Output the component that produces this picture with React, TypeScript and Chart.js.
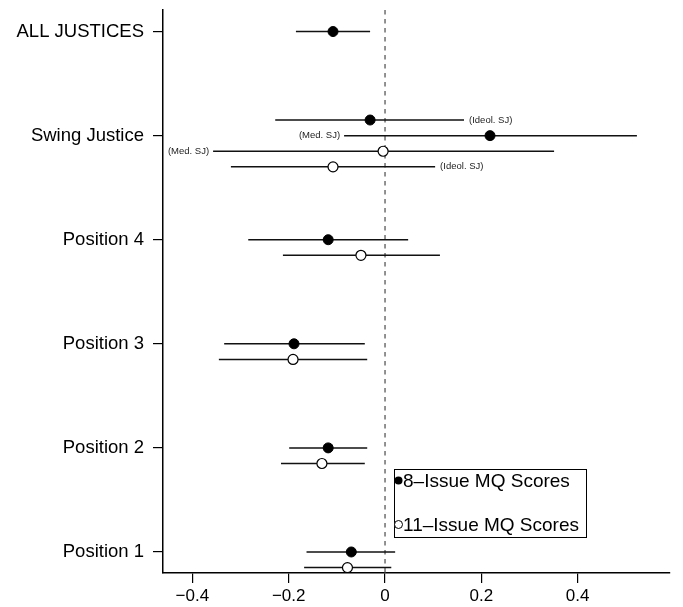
import { useEffect, useRef } from "react";
import { Chart, registerables } from "chart.js";

Chart.register(...registerables);

// Row labels on the vertical axis, bottom to top
const categories = ["Position 1", "Position 2", "Position 3", "Position 4", "Swing Justice", "ALL JUSTICES"];
const categoryPos = [1, 2, 3, 4, 5, 6];
const xTicks = [-0.4, -0.2, 0, 0.2, 0.4];

// 8-Issue MQ scores: vertical position, estimate, interval bounds, side note
const eightPos = [6, 5.15, 5, 4, 3, 2, 1];
const eightEst = [-0.108, -0.031, 0.218, -0.118, -0.189, -0.118, -0.070];
const eightLo = [-0.185, -0.228, -0.085, -0.284, -0.334, -0.199, -0.163];
const eightHi = [-0.031, 0.164, 0.523, 0.048, -0.042, -0.037, 0.021];
const eightNote = ["", "(Ideol. SJ)", "(Med. SJ)", "", "", "", ""];
const eightNoteSide = ["", "right", "left", "", "", "", ""];

// 11-Issue MQ scores
const elevenPos = [4.85, 4.7, 3.85, 2.85, 1.85, 0.85];
const elevenEst = [-0.004, -0.108, -0.050, -0.191, -0.131, -0.078];
const elevenLo = [-0.357, -0.320, -0.212, -0.345, -0.216, -0.168];
const elevenHi = [0.351, 0.104, 0.114, -0.037, -0.042, 0.013];
const elevenNote = ["(Med. SJ)", "(Ideol. SJ)", "", "", "", ""];
const elevenNoteSide = ["left", "right", "", "", "", ""];

const legendLabels = ["8\u2013Issue MQ Scores", "11\u2013Issue MQ Scores"];

const FONT = '"Liberation Sans", Arial, Helvetica, sans-serif';

type Row = { y: number; est: number; lo: number; hi: number; note: string; side: string };

const rows: Row[] = [
  ...eightPos.map((y, i) => ({ y, est: eightEst[i], lo: eightLo[i], hi: eightHi[i], note: eightNote[i], side: eightNoteSide[i] })),
  ...elevenPos.map((y, i) => ({ y, est: elevenEst[i], lo: elevenLo[i], hi: elevenHi[i], note: elevenNote[i], side: elevenNoteSide[i] })),
];

const fmtTick = (v: number) => {
  if (Math.abs(v) < 1e-9) return "0";
  const s = Math.abs(v).toFixed(1);
  return v < 0 ? "\u2212" + s : s;
};

const intervalPlugin = {
  id: "intervals",
  beforeDatasetsDraw(chart: any) {
    const { ctx, scales, chartArea } = chart;
    const xs = scales.x;
    const ys = scales.y;
    ctx.save();
    // reference line at zero
    const x0 = xs.getPixelForValue(0);
    ctx.strokeStyle = "#6e6e6e";
    ctx.lineWidth = 1.5;
    ctx.setLineDash([4.5, 4.5]);
    ctx.beginPath();
    ctx.moveTo(x0, chartArea.top);
    ctx.lineTo(x0, chartArea.bottom);
    ctx.stroke();
    ctx.setLineDash([]);
    // confidence intervals
    ctx.strokeStyle = "#111";
    ctx.lineWidth = 1.5;
    rows.forEach((r) => {
      const py = ys.getPixelForValue(r.y);
      ctx.beginPath();
      ctx.moveTo(xs.getPixelForValue(r.lo), py);
      ctx.lineTo(xs.getPixelForValue(r.hi), py);
      ctx.stroke();
    });
    ctx.restore();
  },
  afterDatasetsDraw(chart: any) {
    const { ctx, scales } = chart;
    const xs = scales.x;
    const ys = scales.y;
    ctx.save();
    ctx.fillStyle = "#222";
    ctx.font = `9.5px ${FONT}`;
    ctx.textBaseline = "middle";
    rows.forEach((r) => {
      if (!r.note) return;
      const py = ys.getPixelForValue(r.y);
      if (r.side === "right") {
        ctx.textAlign = "left";
        ctx.fillText(r.note, xs.getPixelForValue(r.hi) + 5, py);
      } else {
        ctx.textAlign = "right";
        ctx.fillText(r.note, xs.getPixelForValue(r.lo) - 4, py);
      }
    });
    ctx.restore();
  },
  afterDraw(chart: any) {
    const { ctx } = chart;
    ctx.save();
    // legend box
    const left = 394.5, top = 469.5, w = 192, h = 68;
    ctx.strokeStyle = "#000";
    ctx.lineWidth = 1;
    ctx.strokeRect(left, top, w, h);
    ctx.font = `19px ${FONT}`;
    ctx.textBaseline = "middle";
    ctx.textAlign = "left";
    const rowsY = [top + 11, top + 55];
    rowsY.forEach((yy, i) => {
      ctx.beginPath();
      ctx.arc(left + 4, yy, 4, 0, Math.PI * 2);
      if (i === 0) {
        ctx.fillStyle = "#000";
        ctx.fill();
      } else {
        ctx.fillStyle = "#fff";
        ctx.fill();
        ctx.strokeStyle = "#000";
        ctx.lineWidth = 1;
        ctx.stroke();
      }
      ctx.fillStyle = "#000";
      ctx.fillText(legendLabels[i], left + 8.5, yy + 1);
    });
    ctx.restore();
  },
};

export default function App() {
  const canvasRef = useRef<HTMLCanvasElement | null>(null);

  useEffect(() => {
    if (!canvasRef.current) return;
    const chart = new Chart(canvasRef.current, {
      type: "scatter",
      data: {
        datasets: [
          {
            label: legendLabels[0],
            data: eightPos.map((y, i) => ({ x: eightEst[i], y })),
            pointRadius: 5,
            pointHoverRadius: 5,
            pointBackgroundColor: "#000",
            pointBorderColor: "#000",
            pointBorderWidth: 1,
          },
          {
            label: legendLabels[1],
            data: elevenPos.map((y, i) => ({ x: elevenEst[i], y })),
            pointRadius: 5,
            pointHoverRadius: 5,
            pointBackgroundColor: "#fff",
            pointBorderColor: "#000",
            pointBorderWidth: 1.2,
          },
        ],
      },
      options: {
        responsive: false,
        animation: false,
        events: [],
        layout: { padding: { left: 0, top: 10, right: 13, bottom: 0 } },
        plugins: {
          legend: { display: false },
          tooltip: { enabled: false },
        },
        scales: {
          x: {
            type: "linear",
            min: -0.461,
            max: 0.5917,
            afterBuildTicks(scale: any) {
              scale.ticks = xTicks.map((v) => ({ value: v }));
            },
            afterFit(scale: any) {
              scale.height = 34;
              scale.paddingLeft = 0;
              scale.paddingRight = 0;
            },
            grid: {
              display: true,
              drawOnChartArea: false,
              drawTicks: true,
              tickLength: 10,
              color: "#000",
              lineWidth: 1.2,
            },
            border: { display: true, color: "#000", width: 1.5 },
            ticks: {
              padding: 3,
              color: "#000",
              font: { family: FONT, size: 17 },
              maxRotation: 0,
              autoSkip: false,
              callback: (v: any) => fmtTick(Number(v)),
            },
          },
          y: {
            type: "linear",
            min: 0.798,
            max: 6.207,
            afterBuildTicks(scale: any) {
              scale.ticks = categoryPos.map((v) => ({ value: v }));
            },
            afterFit(scale: any) {
              scale.width = 163;
              scale.paddingTop = 0;
              scale.paddingBottom = 0;
            },
            grid: {
              display: true,
              drawOnChartArea: false,
              drawTicks: true,
              tickLength: 10,
              color: "#000",
              lineWidth: 1.2,
            },
            border: { display: true, color: "#000", width: 1.5 },
            ticks: {
              padding: 9,
              color: "#000",
              font: { family: FONT, size: 18.5 },
              autoSkip: false,
              callback: (v: any) => {
                const idx = categoryPos.indexOf(Number(v));
                return idx >= 0 ? categories[idx] : "";
              },
            },
          },
        },
      },
      plugins: [intervalPlugin],
    });
    return () => chart.destroy();
  }, []);

  return (
    <div style={{ position: "absolute", left: 0, top: 0, width: 683, height: 607, background: "#fff" }}>
      <canvas ref={canvasRef} width={683} height={607} style={{ display: "block" }} />
    </div>
  );
}
